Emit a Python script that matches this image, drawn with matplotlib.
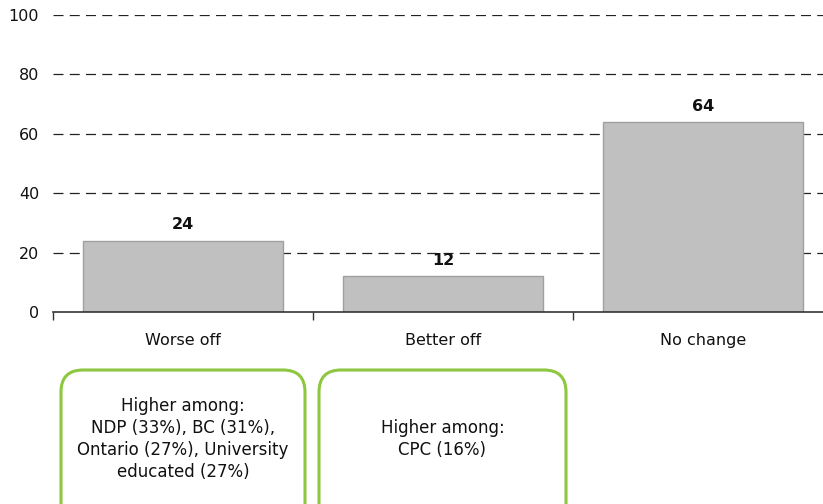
import matplotlib
matplotlib.use("Agg")
import matplotlib.pyplot as plt
from matplotlib.patches import FancyBboxPatch
from matplotlib.transforms import IdentityTransform

categories = ["Worse off", "Better off", "No change"]
values = [24, 12, 64]
y_ticks = [0, 20, 40, 60, 80, 100]
notes = [
    "Higher among:\nNDP (33%), BC (31%),\nOntario (27%), University\neducated (27%)",
    "Higher among:\nCPC (16%)",
]

W, H = 823, 504
fig = plt.figure(figsize=(W / 100, H / 100), dpi=100)
fig.patch.set_facecolor("white")

# axes spans slightly past the right edge of the figure
ax = fig.add_axes([53 / W, 1 - 312 / H, 780 / W, 297 / H])
ax.set_xlim(-0.5, len(categories) - 0.5)
ax.set_ylim(0, 100)

x = list(range(len(categories)))
bars = ax.bar(x, values, width=0.77, color="#c0c0c0", edgecolor="#a0a0a0",
              linewidth=1, zorder=3)

for b, v in zip(bars, values):
    ax.annotate(f"{v}", (b.get_x() + b.get_width() / 2, v), xytext=(0, 6),
                textcoords="offset points", ha="center", va="bottom",
                fontsize=11.5, fontweight="bold", color="#111111", zorder=4)

ax.set_yticks(y_ticks)
ax.set_yticklabels([str(t) for t in y_ticks], fontsize=11.5, color="#111111")
ax.tick_params(axis="y", length=0, pad=10)
for t in y_ticks[1:]:
    ax.axhline(t, color="#222222", linewidth=0.9, linestyle=(0, (8, 5)), zorder=1)

# category boundary ticks on the x axis
ax.set_xticks([i - 0.5 for i in range(len(categories) + 1)])
ax.set_xticklabels([])
ax.tick_params(axis="x", direction="out", length=6, width=1, color="#333333")
ax.set_xticks(x, minor=True)
ax.set_xticklabels(categories, minor=True, fontsize=11.5, color="#111111")
ax.tick_params(axis="x", which="minor", length=0, pad=15)

for s in ["top", "right", "left"]:
    ax.spines[s].set_visible(False)
ax.spines["bottom"].set_color("#333333")
ax.spines["bottom"].set_linewidth(1.2)
ax.spines["bottom"].set_zorder(5)

# note boxes below the first two categories, laid out in pixels
boxes = [(61, 305), (319, 566)]
y_top, y_bot = 370, 530
for (x0, x1), txt in zip(boxes, notes):
    patch = FancyBboxPatch((x0, H - y_bot), x1 - x0, y_bot - y_top,
                           boxstyle="round,pad=0,rounding_size=22",
                           transform=IdentityTransform(), facecolor="white",
                           edgecolor="#8dc63f", linewidth=2.2, clip_on=False)
    fig.patches.append(patch)
    fig.text((x0 + x1) / 2 / W, 1 - 439 / H, txt, ha="center", va="center",
             fontsize=12, color="#111111", linespacing=1.28)

fig.savefig("out.png", dpi=100)
